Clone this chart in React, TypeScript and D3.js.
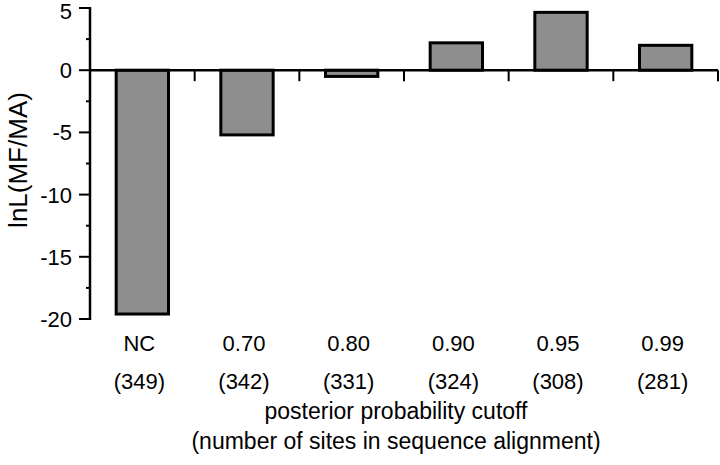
import React, { useEffect, useRef } from "react";
import * as d3 from "d3";

const categories = ["NC", "0.70", "0.80", "0.90", "0.95", "0.99"];
const siteCounts = ["(349)", "(342)", "(331)", "(324)", "(308)", "(281)"];
const lnL = [-19.6, -5.2, -0.5, 2.2, 4.65, 2.0];
const yTicks = [5, 0, -5, -10, -15, -20];

export default function App() {
  const svgRef = useRef<SVGSVGElement>(null);

  useEffect(() => {
    const w = 720;
    const h = 465;
    const left = 90;
    const right = 718;
    const top = 8;
    const bottom = 319;
    const font = "'Liberation Sans', Arial, sans-serif";

    const svg = d3.select(svgRef.current).attr("width", w).attr("height", h);
    svg.selectAll("*").remove();

    const x = d3
      .scaleBand()
      .domain(categories)
      .range([left, right])
      .paddingInner(0.5)
      .paddingOuter(0.25);
    const y = d3.scaleLinear().domain([-20, 5]).range([bottom, top]);

    // bars
    svg
      .selectAll(".bar")
      .data(lnL)
      .join("rect")
      .attr("class", "bar")
      .attr("x", (_, i) => x(categories[i])!)
      .attr("width", x.bandwidth())
      .attr("y", (v) => y(Math.max(0, v)))
      .attr("height", (v) => Math.abs(y(v) - y(0)))
      .style("fill", "#8e8e8e")
      .style("stroke", "#000")
      .style("stroke-width", 3);

    // y axis
    const yAxis = svg.append("g").attr("transform", `translate(${left},0)`);
    yAxis
      .append("line")
      .attr("y1", y(5) - 1)
      .attr("y2", y(-20) + 1)
      .attr("stroke", "#000")
      .attr("stroke-width", 2.5);
    const minor = d3.range(-20, 5.01, 2.5);
    yAxis
      .selectAll(".tick")
      .data(minor)
      .join("line")
      .attr("x1", (d) => (d % 5 === 0 ? -11 : -4))
      .attr("x2", 0)
      .attr("y1", (d) => y(d))
      .attr("y2", (d) => y(d))
      .attr("stroke", "#000")
      .attr("stroke-width", 2);
    yAxis
      .selectAll(".lab")
      .data(yTicks)
      .join("text")
      .attr("x", -18)
      .attr("y", (d) => y(d))
      .attr("dy", (d) => (d === 5 ? "0.48em" : "0.36em"))
      .attr("text-anchor", "end")
      .style("font-family", font)
      .style("font-size", "22px")
      .text((d) => d);

    // x axis at zero
    svg
      .append("line")
      .attr("x1", left)
      .attr("x2", right)
      .attr("y1", y(0))
      .attr("y2", y(0))
      .attr("stroke", "#000")
      .attr("stroke-width", 2.5);
    const step = x.step();
    svg
      .selectAll(".xtick")
      .data(categories)
      .join("line")
      .attr("x1", (_, i) => left + step * (i + 1))
      .attr("x2", (_, i) => left + step * (i + 1))
      .attr("y1", y(0))
      .attr("y2", y(0) + 11)
      .attr("stroke", "#000")
      .attr("stroke-width", 2);

    const cx = (i: number) => x(categories[i])! + x.bandwidth() / 2 - 3;
    svg
      .selectAll(".cat")
      .data(categories)
      .join("text")
      .attr("x", (_, i) => cx(i))
      .attr("y", 351)
      .attr("text-anchor", "middle")
      .style("font-family", font)
      .style("font-size", "22px")
      .text((d) => d);
    svg
      .selectAll(".cnt")
      .data(siteCounts)
      .join("text")
      .attr("x", (_, i) => cx(i))
      .attr("y", 389)
      .attr("text-anchor", "middle")
      .style("font-family", font)
      .style("font-size", "22px")
      .text((d) => d);

    const mid = 396;
    svg
      .append("text")
      .attr("x", mid)
      .attr("y", 419)
      .attr("text-anchor", "middle")
      .style("font-family", font)
      .style("font-size", "23px")
      .text("posterior probability cutoff");
    svg
      .append("text")
      .attr("x", mid)
      .attr("y", 449)
      .attr("text-anchor", "middle")
      .style("font-family", font)
      .style("font-size", "23px")
      .text("(number of sites in sequence alignment)");

    svg
      .append("text")
      .attr("transform", `translate(27,160) rotate(-90)`)
      .attr("text-anchor", "middle")
      .style("font-family", font)
      .style("font-size", "26px")
      .text("lnL(MF/MA)");
  }, []);

  return (
    <div style={{ position: "absolute", left: 0, top: 0 }}>
      <svg ref={svgRef} style={{ display: "block", background: "#fff" }}></svg>
    </div>
  );
}
